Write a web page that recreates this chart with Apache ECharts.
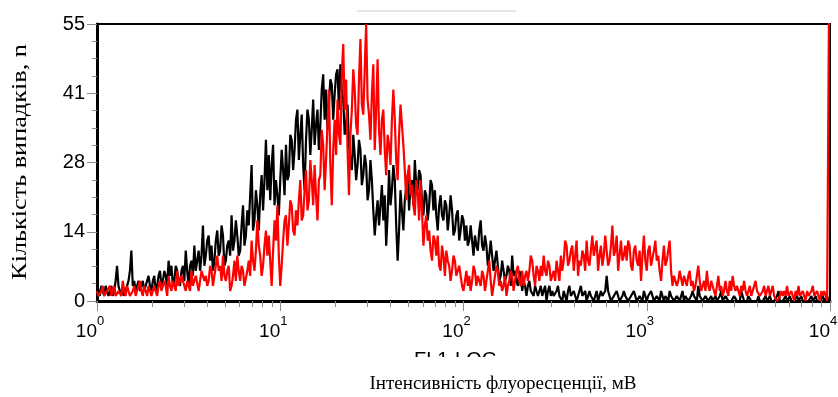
<!DOCTYPE html>
<html>
<head>
<meta charset="utf-8">
<script src="https://cdn.jsdelivr.net/npm/echarts@6/dist/echarts.min.js"></script>
<style>
  html, body { margin: 0; padding: 0; background: #fff; }
  #chart { width: 838px; height: 397px; }
</style>
</head>
<body>
<div id="chart"></div>
<script>
// channels: 128 per decade, 10^0 .. 10^4
const channelsPerDecade = 128
const decades = [0, 1, 2, 3, 4]
const minorMultipliers = [2, 3, 4, 5, 6, 7, 8, 9]
const yTickLabels = ['0', '14', '28', '41', '55']
const xTitle = 'Інтенсивність флуоресценції, мВ'
const yTitle = 'Кількість випадків, n'

// counts per channel
const black = [
  4, 2, 1, 3, 2, 1, 3, 2, 1, 2, 3, 1, 2, 4, 7, 3, 2, 1, 3, 1,
  2, 3, 4, 6, 10, 3, 4, 2, 3, 4, 2, 3, 4, 2, 3, 4, 5, 3, 2, 4,
  5, 2, 3, 5, 6, 3, 4, 6, 5, 3, 8, 5, 7, 3, 4, 7, 6, 4, 3, 6,
  7, 4, 10, 6, 3, 7, 8, 5, 11, 6, 8, 10, 6, 9, 15, 7, 9, 12, 13, 8,
  11, 6, 8, 12, 14, 9, 10, 15, 13, 7, 8, 11, 12, 9, 17, 10, 12, 16, 13, 9,
  10, 15, 19, 11, 13, 18, 15, 21, 27, 14, 16, 22, 19, 14, 21, 25, 18, 24, 32, 22,
  29, 20, 27, 31, 19, 24, 21, 17, 24, 30, 26, 21, 31, 24, 25, 33, 32, 26, 30, 36,
  38, 28, 33, 37, 27, 22, 32, 38, 36, 29, 34, 40, 31, 35, 38, 30, 35, 42, 45, 36,
  42, 34, 39, 44, 43, 36, 41, 45, 46, 38, 47, 42, 40, 33, 35, 39, 31, 28, 26, 33,
  29, 24, 27, 32, 30, 23, 25, 29, 27, 20, 22, 28, 24, 18, 13, 17, 20, 15, 19, 23,
  16, 21, 11, 17, 26, 19, 22, 27, 24, 15, 8, 14, 22, 18, 14, 20, 20, 25, 18, 23,
  24, 19, 28, 23, 22, 26, 25, 20, 17, 22, 21, 16, 19, 24, 23, 18, 22, 17, 14, 19,
  21, 17, 16, 20, 19, 14, 17, 21, 18, 13, 14, 17, 18, 12, 14, 17, 16, 12, 15, 11,
  12, 15, 12, 9, 13, 11, 10, 14, 16, 11, 10, 13, 11, 7, 9, 12, 9, 6, 8, 10,
  7, 4, 5, 8, 8, 4, 5, 7, 6, 3, 9, 5, 6, 4, 3, 6, 5, 2, 4, 3,
  1, 3, 4, 2, 2, 1, 3, 2, 1, 2, 3, 1, 2, 3, 0, 2, 3, 1, 2, 1,
  1, 2, 3, 1, 1, 0, 2, 1, 0, 2, 3, 1, 1, 2, 2, 0, 1, 2, 3, 1,
  1, 2, 0, 1, 2, 1, 1, 0, 1, 2, 0, 1, 2, 1, 1, 2, 5, 2, 1, 0,
  0, 1, 1, 2, 1, 0, 0, 1, 2, 1, 1, 0, 0, 1, 1, 2, 1, 0, 0, 1,
  1, 0, 2, 1, 0, 1, 1, 2, 1, 0, 0, 1, 1, 0, 2, 1, 0, 1, 1, 0,
  2, 1, 1, 0, 0, 1, 1, 0, 1, 2, 0, 1, 1, 0, 0, 1, 2, 1, 1, 0,
  3, 1, 1, 0, 0, 1, 1, 0, 0, 1, 0, 0, 1, 0, 0, 1, 2, 0, 0, 1,
  1, 0, 0, 0, 0, 1, 1, 0, 0, 0, 2, 1, 0, 0, 0, 1, 1, 0, 0, 0,
  0, 0, 1, 0, 0, 0, 0, 1, 0, 0, 1, 0, 0, 0, 0, 1, 2, 0, 0, 0,
  0, 1, 0, 0, 1, 0, 0, 0, 0, 1, 0, 0, 1, 0, 0, 0, 0, 0, 0, 1,
  0, 0, 1, 0, 0, 0, 0, 1, 0, 0, 1, 0, 0
]

const red = [
  2, 1, 1, 2, 3, 1, 1, 2, 2, 3, 1, 2, 3, 1, 1, 2, 2, 1, 4, 2,
  1, 3, 2, 1, 1, 2, 3, 1, 2, 3, 4, 2, 1, 3, 2, 1, 3, 2, 1, 2,
  3, 2, 1, 3, 4, 2, 2, 4, 3, 1, 5, 3, 2, 4, 4, 2, 6, 3, 3, 5,
  5, 3, 2, 4, 4, 2, 6, 3, 3, 5, 5, 2, 4, 6, 6, 4, 5, 3, 4, 7,
  6, 3, 5, 7, 9, 6, 7, 4, 9, 5, 4, 6, 7, 2, 3, 5, 8, 4, 9, 6,
  4, 7, 6, 3, 3, 6, 8, 5, 12, 8, 6, 10, 16, 11, 9, 5, 7, 11, 14, 9,
  13, 8, 3, 10, 16, 12, 19, 9, 3, 7, 12, 16, 17, 11, 15, 20, 19, 14, 13, 18,
  15, 20, 24, 16, 17, 22, 26, 18, 20, 28, 24, 19, 27, 21, 16, 24, 25, 34, 31, 22,
  28, 35, 42, 27, 19, 30, 36, 29, 40, 33, 31, 45, 51, 38, 44, 30, 21, 33, 38, 46,
  42, 35, 33, 44, 52, 39, 37, 46, 55, 40, 37, 32, 41, 47, 30, 38, 48, 34, 29, 36,
  38, 30, 25, 33, 31, 27, 36, 42, 36, 28, 24, 33, 39, 35, 31, 26, 20, 25, 27, 21,
  23, 19, 17, 24, 22, 16, 24, 18, 11, 15, 17, 12, 14, 10, 8, 13, 12, 9, 13, 7,
  6, 11, 9, 5, 10, 8, 7, 4, 6, 9, 8, 5, 5, 7, 7, 3, 2, 4, 6, 3,
  5, 2, 4, 7, 6, 3, 5, 4, 3, 6, 5, 2, 4, 6, 8, 4, 1, 3, 5, 7,
  6, 3, 4, 2, 3, 5, 1, 3, 4, 6, 5, 2, 4, 6, 7, 4, 3, 6, 3, 5,
  6, 4, 6, 9, 8, 5, 3, 7, 6, 4, 7, 5, 9, 6, 5, 8, 7, 4, 4, 6,
  4, 8, 6, 4, 9, 6, 8, 12, 11, 7, 8, 10, 11, 6, 9, 12, 5, 8, 7, 10,
  9, 6, 12, 8, 7, 10, 13, 9, 9, 12, 6, 9, 11, 7, 9, 13, 10, 7, 8, 11,
  15, 9, 10, 13, 6, 9, 12, 8, 9, 11, 8, 12, 11, 7, 6, 10, 11, 8, 7, 10,
  4, 9, 13, 8, 6, 10, 11, 7, 7, 10, 12, 8, 9, 6, 4, 8, 11, 7, 8, 10,
  12, 6, 3, 5, 5, 3, 4, 6, 6, 3, 5, 4, 3, 5, 6, 3, 4, 2, 3, 5,
  7, 4, 2, 3, 4, 2, 6, 3, 2, 4, 4, 2, 1, 3, 5, 2, 3, 1, 2, 4,
  2, 1, 4, 2, 5, 3, 2, 3, 2, 1, 3, 2, 4, 2, 1, 2, 3, 1, 2, 3,
  4, 2, 2, 1, 1, 2, 3, 1, 2, 3, 1, 2, 3, 1, 1, 0, 0, 1, 2, 1,
  2, 1, 3, 1, 1, 2, 1, 0, 2, 1, 3, 1, 1, 2, 1, 0, 2, 1, 1, 2,
  3, 1, 1, 2, 1, 0, 2, 1, 2, 1, 0, 0, 90
]

const toPairs = (arr) => arr.map((v, i) => [i / channelsPerDecade, v])

const minorTicks = []
decades.slice(0, -1).forEach((d) => {
  minorMultipliers.forEach((m) => minorTicks.push(d + Math.log10(m)))
})

const chart = echarts.init(document.getElementById('chart'))
const tickGray = '#8c8c8c'

chart.setOption({
  animation: false,
  backgroundColor: '#fff',
  grid: {
    left: 97, right: 8, top: 24, bottom: 96,
    outerBoundsMode: 'none',
    show: true, borderColor: '#000', borderWidth: 2, backgroundColor: 'transparent'
  },
  xAxis: [
    {
      type: 'value',
      min: 0, max: 4, interval: 1,
      axisLine: { lineStyle: { color: '#000', width: 3 } },
      axisTick: { show: true, length: 10, lineStyle: { color: tickGray, width: 1 } },
      splitLine: { show: false },
      axisLabel: {
        margin: 14,
        padding: [0, 14, 0, 0],
        formatter: (v) => '{b|10}{s|' + decades[Math.round(v)] + '}',
        rich: {
          b: { fontFamily: 'Liberation Sans', fontSize: 19, color: '#000', lineHeight: 26, verticalAlign: 'bottom' },
          s: { fontFamily: 'Liberation Sans', fontSize: 13, color: '#000', verticalAlign: 'top' }
        }
      }
    },
    {
      type: 'value',
      min: 0, max: 4,
      position: 'bottom',
      axisLine: { show: false },
      axisLabel: { show: false },
      splitLine: { show: false },
      axisTick: { show: true, length: 6, customValues: minorTicks, lineStyle: { color: tickGray, width: 1 } }
    }
  ],
  yAxis: {
    type: 'value',
    min: 0, max: 55, interval: 13.75,
    axisLine: { show: true, lineStyle: { color: '#000', width: 3 } },
    axisTick: { show: true, length: 10, lineStyle: { color: tickGray, width: 1 } },
    minorTick: { show: true, splitNumber: 4, length: 5, lineStyle: { color: tickGray, width: 1 } },
    splitLine: { show: false },
    axisLabel: {
      margin: 12,
      fontFamily: 'Liberation Sans', fontSize: 20, color: '#000',
      formatter: (v) => yTickLabels[Math.round(v / 13.75)]
    }
  },
  series: [
    {
      name: 'black', type: 'line', data: toPairs(black),
      showSymbol: false, symbol: 'none', clip: true,
      lineStyle: { color: '#000', width: 2.2 }
    },
    {
      name: 'red', type: 'line', data: toPairs(red),
      showSymbol: false, symbol: 'none', clip: true,
      lineStyle: { color: '#ff0000', width: 2.2 }
    }
  ],
  graphic: [
    { type: 'line', shape: { x1: 357, y1: 11, x2: 516, y2: 11 }, style: { stroke: '#cccccc', lineWidth: 1 } },
    {
      type: 'text', x: 414, y: 350, z: 10,
      style: { text: 'FL1-LOG', font: '20px "Liberation Sans"', fill: '#000' }
    },
    { type: 'rect', shape: { x: 405, y: 357, width: 110, height: 14 }, style: { fill: '#fff' }, z: 11 },
    {
      type: 'text', x: 503, y: 384, z: 12,
      style: {
        text: xTitle, font: '19px "Liberation Serif"', fill: '#000',
        align: 'center', verticalAlign: 'middle'
      }
    },
    {
      type: 'text', x: 20, y: 162, z: 12,
      rotation: Math.PI / 2, scaleX: 1.25,
      style: {
        text: yTitle, font: '21px "Liberation Serif"', fill: '#000',
        align: 'center', verticalAlign: 'middle'
      }
    }
  ]
})
</script>
</body>
</html>
